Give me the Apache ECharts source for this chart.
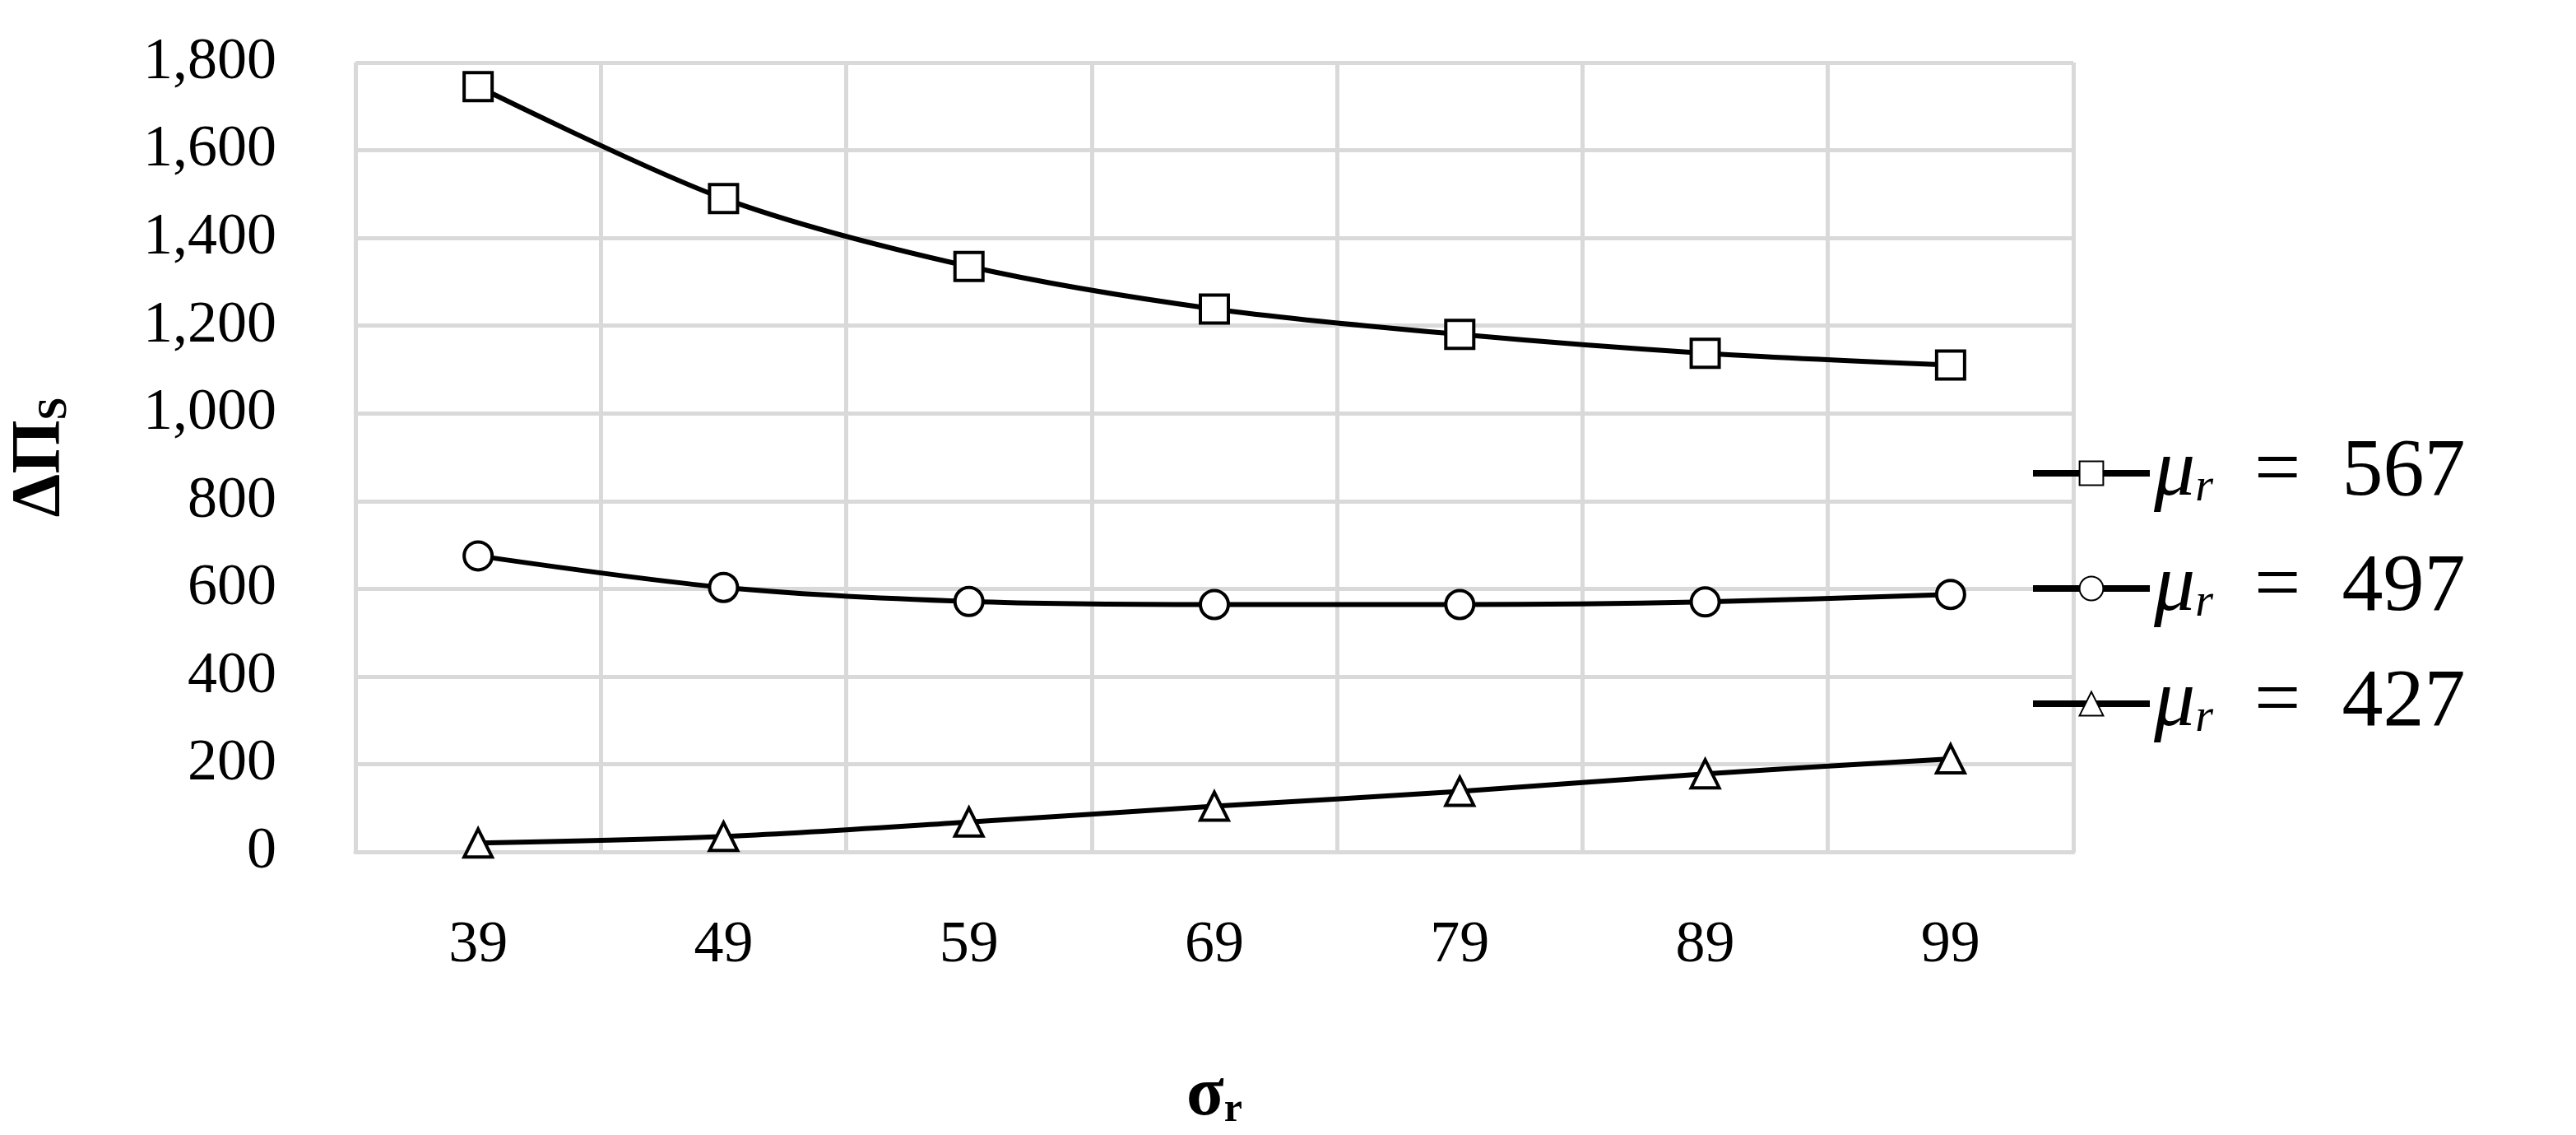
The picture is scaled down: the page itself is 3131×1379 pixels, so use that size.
<!DOCTYPE html>
<html>
<head>
<meta charset="utf-8">
<script src="https://cdn.jsdelivr.net/npm/echarts@6/dist/echarts.min.js"></script>
<style>
  html, body { margin: 0; padding: 0; background: #fff; }
  #chart { width: 3131px; height: 1379px; }
</style>
</head>
<body>
<div id="chart"></div>
<script>
const sigmaR = ['39', '49', '59', '69', '79', '89', '99'];
const mu567 = [1745, 1490, 1335, 1238, 1180, 1137, 1110];
const mu497 = [675, 603, 571, 564, 564, 570, 587];
const mu427 = [20, 35, 68, 104, 138, 178, 212];
const seriesNames = ['567', '497', '427'];

const serif = '"Liberation Serif", "DejaVu Serif", serif';
const chart = echarts.init(document.getElementById('chart'));

function lineSeries(name, data, symbol) {
  return {
    name: name,
    type: 'line',
    data: data,
    smooth: 0.3,
    symbol: symbol,
    symbolSize: 34,
    showAllSymbol: true,
    lineStyle: { color: '#000', width: 6 },
    itemStyle: { color: '#fff', borderColor: '#000', borderWidth: 4 },
    emphasis: { disabled: true }
  };
}

chart.setOption({
  animation: false,
  backgroundColor: '#fff',
  textStyle: { fontFamily: serif },
  grid: { left: 426, right: 611, top: 76, bottom: 333 },
  legend: {
    orient: 'vertical',
    left: 2462,
    top: 520,
    itemWidth: 142,
    itemHeight: 36,
    itemGap: 40,
    data: seriesNames,
    lineStyle: { width: 8 },
    formatter: (n) => `{i|μ}{s|r}{t|  =  ${n}}`,
    textStyle: {
      rich: {
        i: { fontFamily: serif, fontStyle: 'italic', fontSize: 100, color: '#000' },
        s: { fontFamily: serif, fontStyle: 'italic', fontSize: 56, color: '#000', padding: [36, 0, 0, 0] },
        t: { fontFamily: serif, fontSize: 100, color: '#000' }
      }
    }
  },
  xAxis: {
    type: 'category',
    data: sigmaR,
    boundaryGap: true,
    axisLine: { lineStyle: { color: '#d9d9d9', width: 5 } },
    axisTick: { show: false },
    splitLine: { show: true, lineStyle: { color: '#d9d9d9', width: 5 } },
    axisLabel: { color: '#000', fontSize: 72, fontFamily: serif, margin: 78 },
    name: '{b|σ}{s|r}',
    nameLocation: 'middle',
    nameGap: 255,
    nameTextStyle: {
      rich: {
        b: { fontFamily: serif, fontWeight: 'bold', fontSize: 84, color: '#000' },
        s: { fontFamily: serif, fontWeight: 'bold', fontSize: 50, color: '#000', padding: [34, 0, 0, 0] }
      }
    }
  },
  yAxis: {
    type: 'value',
    min: 0,
    max: 1800,
    interval: 200,
    axisLine: { show: false },
    axisTick: { show: false },
    splitLine: { lineStyle: { color: '#d9d9d9', width: 5 } },
    axisLabel: {
      color: '#000', fontSize: 72, fontFamily: serif, margin: 96,
      formatter: (v) => v.toLocaleString('en-US')
    },
    name: '{b|ΔΠ}{s|S}',
    nameLocation: 'middle',
    nameRotate: 90,
    nameGap: 340,
    nameTextStyle: {
      rich: {
        b: { fontFamily: serif, fontWeight: 'bold', fontSize: 84, color: '#000' },
        s: { fontFamily: serif, fontWeight: 'bold', fontSize: 50, color: '#000', padding: [34, 0, 0, 0] }
      }
    }
  },
  series: [
    lineSeries(seriesNames[0], mu567, 'rect'),
    lineSeries(seriesNames[1], mu497, 'circle'),
    lineSeries(seriesNames[2], mu427, 'triangle')
  ]
});
</script>
</body>
</html>
